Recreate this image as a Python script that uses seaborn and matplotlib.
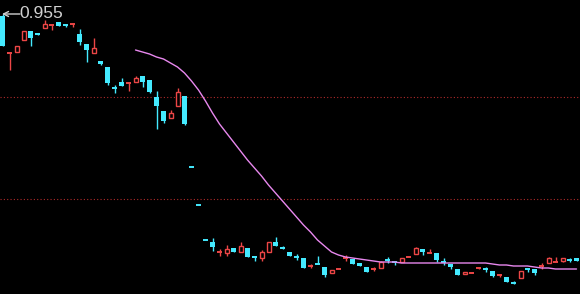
import numpy as np
import pandas as pd
import matplotlib
matplotlib.use("Agg")
import matplotlib.pyplot as plt
import seaborn as sns

# ---- data ----
opens = [0.953, 0.916, 0.917, 0.929, 0.938, 0.936, 0.941, 0.944, 0.947, 0.945,
         0.945, 0.935, 0.925, 0.916, 0.908, 0.902, 0.881, 0.887, 0.886, 0.887,
         0.893, 0.889, 0.872, 0.858, 0.851, 0.863, 0.873, 0.803, 0.765, 0.730,
         0.727, 0.717, 0.716, 0.721, 0.717, 0.721, 0.713, 0.711, 0.717, 0.727,
         0.722, 0.717, 0.712, 0.711, 0.703, 0.705, 0.702, 0.696, 0.700, 0.711,
         0.710, 0.706, 0.702, 0.700, 0.701, 0.709, 0.707, 0.707, 0.712, 0.715,
         0.720, 0.716, 0.716, 0.707, 0.705, 0.700, 0.695, 0.696, 0.701, 0.700,
         0.698, 0.694, 0.692, 0.686, 0.691, 0.701, 0.700, 0.703, 0.706, 0.707,
         0.708, 0.709, 0.711]
closes = [0.923, 0.9165, 0.923, 0.938, 0.931, 0.934, 0.945, 0.9445, 0.943, 0.944,
          0.9455, 0.927, 0.919, 0.921, 0.905, 0.886, 0.8805, 0.883, 0.8865, 0.891,
          0.887, 0.877, 0.863, 0.848, 0.856, 0.877, 0.845, 0.802, 0.764, 0.729,
          0.722, 0.7175, 0.720, 0.717, 0.723, 0.712, 0.711, 0.717, 0.727, 0.723,
          0.720, 0.713, 0.7115, 0.701, 0.7035, 0.7045, 0.694, 0.699, 0.7005, 0.7115,
          0.705, 0.703, 0.697, 0.7005, 0.707, 0.7085, 0.7065, 0.711, 0.7125, 0.721,
          0.717, 0.7165, 0.709, 0.7065, 0.702, 0.694, 0.697, 0.697, 0.7015, 0.6995,
          0.693, 0.6945, 0.687, 0.6855, 0.698, 0.700, 0.696, 0.7035, 0.711, 0.708,
          0.711, 0.7085, 0.708]
highs = [0.955, 0.917, 0.923, 0.938, 0.938, 0.936, 0.949, 0.944, 0.947, 0.945,
         0.945, 0.940, 0.925, 0.931, 0.908, 0.902, 0.884, 0.891, 0.887, 0.893,
         0.893, 0.889, 0.878, 0.858, 0.859, 0.881, 0.873, 0.803, 0.765, 0.730,
         0.731, 0.720, 0.724, 0.721, 0.727, 0.721, 0.713, 0.719, 0.727, 0.732,
         0.723, 0.717, 0.715, 0.711, 0.705, 0.713, 0.702, 0.699, 0.700, 0.714,
         0.710, 0.706, 0.702, 0.702, 0.708, 0.712, 0.707, 0.711, 0.712, 0.722,
         0.720, 0.720, 0.716, 0.711, 0.705, 0.700, 0.697, 0.697, 0.702, 0.702,
         0.698, 0.695, 0.692, 0.688, 0.698, 0.701, 0.700, 0.706, 0.712, 0.712,
         0.711, 0.711, 0.711]
lows = [0.923, 0.899, 0.917, 0.929, 0.923, 0.934, 0.941, 0.939, 0.943, 0.942,
        0.942, 0.924, 0.907, 0.916, 0.904, 0.884, 0.876, 0.883, 0.878, 0.887,
        0.882, 0.876, 0.840, 0.846, 0.851, 0.863, 0.844, 0.802, 0.764, 0.729,
        0.718, 0.713, 0.713, 0.717, 0.717, 0.712, 0.708, 0.708, 0.717, 0.723,
        0.720, 0.713, 0.709, 0.701, 0.701, 0.705, 0.692, 0.696, 0.700, 0.708,
        0.705, 0.703, 0.697, 0.698, 0.701, 0.706, 0.704, 0.707, 0.712, 0.715,
        0.714, 0.716, 0.707, 0.704, 0.700, 0.694, 0.695, 0.696, 0.700, 0.697,
        0.692, 0.692, 0.687, 0.685, 0.691, 0.697, 0.694, 0.700, 0.706, 0.707,
        0.707, 0.707, 0.708]
ma_start = 19
ma_values = [0.919, 0.917, 0.915, 0.912, 0.910, 0.906, 0.902, 0.896, 0.888, 0.879,
             0.868, 0.856, 0.845, 0.836, 0.827, 0.818, 0.809, 0.801, 0.793, 0.784,
             0.776, 0.768, 0.760, 0.752, 0.744, 0.737, 0.729, 0.723, 0.717, 0.714,
             0.712, 0.711, 0.710, 0.709, 0.708, 0.707, 0.707, 0.707, 0.706, 0.706,
             0.706, 0.706, 0.706, 0.706, 0.706, 0.706, 0.706, 0.706, 0.706, 0.706,
             0.706, 0.705, 0.704, 0.704, 0.703, 0.703, 0.703, 0.702, 0.701, 0.701,
             0.700, 0.700, 0.700, 0.700]
grid_levels = [0.872, 0.770]
label_value = "0.955"

# ---- style ----
sns.set_theme(style="dark", rc={"axes.facecolor": "black", "figure.facecolor": "black"})
plt.rcParams['font.family'] = ['Liberation Sans', 'DejaVu Sans']

RED = "#ec4646"
CYAN = "#44eaff"
PINK = "#e888ee"

fig = plt.figure(figsize=(5.8, 2.94), dpi=100)
ax = fig.add_axes([0, 0, 1, 1])
ax.set_facecolor("black")

n = len(opens)
x = np.arange(n)
px = 1 / 7.0          # one pixel in data units along x
w = 5 * px            # candle body width

for lvl in grid_levels:
    ax.axhline(lvl, color="#b02a2a", lw=0.8, ls=(0, (1, 2)), zorder=1)

for i in range(n):
    o, c, h, l = opens[i], closes[i], highs[i], lows[i]
    up = c >= o
    col = RED if up else CYAN
    ax.vlines(x[i], l, h, color=col, lw=1.0, zorder=2)
    if abs(c - o) <= 0.0011:
        ax.hlines((o + c) / 2, x[i] - w / 2, x[i] + w / 2, color=col, lw=1.4, zorder=3)
    elif up:
        ax.bar(x[i], c - o, bottom=o, width=w - px, facecolor="black",
               edgecolor=col, linewidth=1.0, zorder=3)
    else:
        ax.bar(x[i], o - c, bottom=c, width=w, color=col, linewidth=0, zorder=3)

ma_df = pd.DataFrame({"x": x[ma_start:ma_start + len(ma_values)], "ma": ma_values})
sns.lineplot(data=ma_df, x="x", y="ma", color=PINK, lw=1.0, ax=ax, zorder=4)

ax.set_xlim(-2.5 / 7, (580 - 2.5) / 7)
ax.set_ylim(0.675, 0.969)
ax.set_xticks([])
ax.set_yticks([])
ax.set_xlabel("")
ax.set_ylabel("")
for s in ax.spines.values():
    s.set_visible(False)

# price label with arrow at the top-left
ax.annotate("", xy=(2 / 580, 1 - 14 / 294), xycoords="axes fraction",
            xytext=(20 / 580, 1 - 14 / 294), textcoords="axes fraction",
            arrowprops=dict(arrowstyle="->", color="#d0d0d0", lw=1.0,
                            mutation_scale=9, shrinkA=0, shrinkB=0))
ax.text(19.5 / 580, 1 - 13 / 294, label_value, transform=ax.transAxes,
        color="#d0d0d0", fontsize=12.5, ha="left", va="center")

fig.savefig("out.png", dpi=100, facecolor="black")
